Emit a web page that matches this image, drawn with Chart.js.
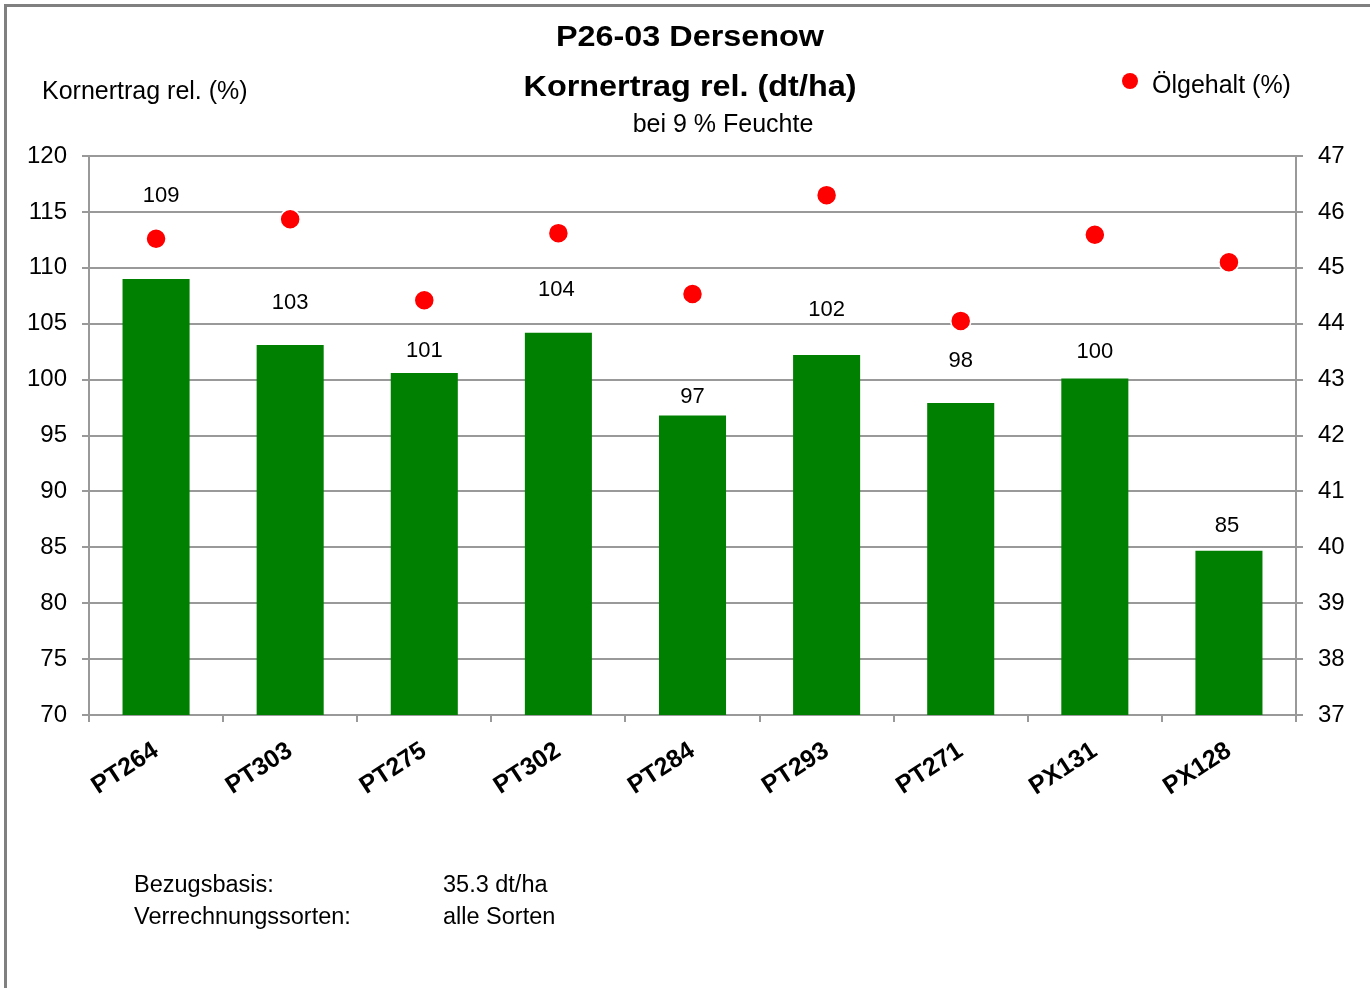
<!DOCTYPE html>
<html>
<head>
<meta charset="utf-8">
<script src="https://cdn.jsdelivr.net/npm/chart.js@4"></script>
<style>
    body { margin: 0; background: #fff; }
    #cadre { width: 1370px; height: 988px; }
</style>
</head>
<body>
<div id="cadre"><canvas id="graphique-ertrag"></canvas></div>
<script>
const sorten = ["PT264", "PT303", "PT275", "PT302", "PT284", "PT293", "PT271", "PX131", "PX128"]
const kornertragRel = [109.0, 103.1, 100.6, 104.2, 96.8, 102.2, 97.9, 100.1, 84.7]
const oelgehalt = [45.52, 45.87, 44.42, 45.62, 44.53, 46.30, 44.05, 45.59, 45.10]
const ticksLinks = [70, 75, 80, 85, 90, 95, 100, 105, 110, 115, 120]
const ticksRechts = [37, 38, 39, 40, 41, 42, 43, 44, 45, 46, 47]
const titel = ["P26-03 Dersenow", "Kornertrag rel. (dt/ha)"]
const untertitel = "bei 9 % Feuchte"
const achsenTitel = "Kornertrag rel. (%)"
const fussnote = [["Bezugsbasis:", "35.3 dt/ha"], ["Verrechnungssorten:", "alle Sorten"]]

const police = "'Liberation Sans', Arial, sans-serif"
const gris = "#999999"

// texte en gras un peu élargi, comme dans l'original
function texteLarge(ctx, texte, x, y, largeur) {
    const w = ctx.measureText(texte).width
    ctx.save()
    ctx.translate(x, y)
    ctx.scale(largeur / w, 1)
    ctx.textAlign = "center"
    ctx.fillText(texte, 0, 0)
    ctx.restore()
}

const cadreEtTextes = {
    id: "cadreEtTextes",
    beforeDraw(chart) {
        const ctx = chart.ctx
        ctx.save()
        ctx.fillStyle = "#fff"
        ctx.fillRect(0, 0, chart.width, chart.height)
        ctx.strokeStyle = "#808080"
        ctx.lineWidth = 3
        ctx.beginPath()
        ctx.moveTo(5.5, chart.height)
        ctx.lineTo(5.5, 5.5)
        ctx.lineTo(chart.width, 5.5)
        ctx.stroke()
        ctx.restore()
    },
    afterDraw(chart) {
        const ctx = chart.ctx
        ctx.save()
        ctx.fillStyle = "#000"
        ctx.textBaseline = "alphabetic"

        ctx.font = "bold 30px " + police
        texteLarge(ctx, titel[0], 690, 46, 268)
        ctx.font = "bold 30px " + police
        texteLarge(ctx, titel[1], 690, 96, 333)

        ctx.font = "25px " + police
        ctx.textAlign = "center"
        ctx.fillText(untertitel, 723, 132)
        ctx.textAlign = "left"
        ctx.fillText(achsenTitel, 42, 99)

        // légende
        const ds = chart.data.datasets[1]
        ctx.fillStyle = ds.pointBackgroundColor
        ctx.beginPath()
        ctx.arc(1130, 81, 8, 0, Math.PI * 2)
        ctx.fill()
        ctx.fillStyle = "#000"
        ctx.fillText(ds.label, 1152, 93)

        ctx.font = "23.5px " + police
        for (let i = 0; i < fussnote.length; i++) {
            ctx.fillText(fussnote[i][0], 134, 892 + i * 32)
            ctx.fillText(fussnote[i][1], 443, 892 + i * 32)
        }
        ctx.restore()
    }
}

const etiquettesBarres = {
    id: "etiquettesBarres",
    afterDatasetsDraw(chart, args, opts) {
        const ctx = chart.ctx
        const meta = chart.getDatasetMeta(0)
        const valeurs = chart.data.datasets[0].data
        ctx.save()
        ctx.font = "22px " + police
        ctx.fillStyle = "#000"
        ctx.textAlign = "center"
        ctx.textBaseline = "middle"
        for (let i = 0; i < meta.data.length; i++) {
            const barre = meta.data[i]
            ctx.fillText(Math.round(valeurs[i]), barre.x + opts.decalage[i], barre.y - opts.abstand[i] + 1)
        }
        ctx.restore()
    }
}

const data = {
    labels: sorten,
    datasets: [{
        type: "bar",
        label: "Kornertrag rel. (%)",
        data: kornertragRel,
        backgroundColor: "#008000",
        barPercentage: 0.5,
        categoryPercentage: 1,
        yAxisID: "y",
        order: 2
    }, {
        type: "line",
        label: "Ölgehalt (%)",
        data: oelgehalt,
        showLine: false,
        pointRadius: 10,
        pointBackgroundColor: "#ff0000",
        pointBorderColor: "#ffffff",
        pointBorderWidth: 1.5,
        yAxisID: "y2",
        order: 1
    }]
}

const config = {
    type: "bar",
    data: data,
    plugins: [cadreEtTextes, etiquettesBarres],
    options: {
        responsive: true,
        maintainAspectRatio: false,
        animation: false,
        layout: { padding: { top: 156 } },
        plugins: {
            legend: { display: false },
            title: { display: false },
            tooltip: { enabled: false },
            etiquettesBarres: {
                abstand: [84, 43, 23, 44, 19, 46, 43, 28, 26],
                decalage: [5, 0, 0, -2, 0, 0, 0, 0, -2]
            }
        },
        scales: {
            x: {
                offset: true,
                grid: { offset: true, drawOnChartArea: false, color: gris, lineWidth: 2, tickLength: 7 },
                border: { color: gris, width: 2 },
                ticks: {
                    autoSkip: false,
                    maxRotation: 33,
                    minRotation: 33,
                    padding: 14,
                    color: "#000",
                    font: { family: police, size: 25, weight: "bold" }
                },
                afterFit: (s) => { s.height = 273 }
            },
            y: {
                position: "left",
                min: ticksLinks[0],
                max: ticksLinks[ticksLinks.length - 1],
                afterBuildTicks: (s) => { s.ticks = ticksLinks.map(v => ({ value: v })) },
                grid: { color: gris, lineWidth: 2, tickLength: 7 },
                border: { color: gris, width: 2 },
                ticks: { padding: 15, color: "#000", font: { family: police, size: 24 } },
                afterFit: (s) => { s.width = 89 }
            },
            y2: {
                position: "right",
                min: ticksRechts[0],
                max: ticksRechts[ticksRechts.length - 1],
                afterBuildTicks: (s) => { s.ticks = ticksRechts.map(v => ({ value: v })) },
                grid: { drawOnChartArea: false, color: gris, lineWidth: 2, tickLength: 7 },
                border: { color: gris, width: 2 },
                ticks: { padding: 15, color: "#000", font: { family: police, size: 24 } },
                afterFit: (s) => { s.width = 74 }
            }
        }
    }
}

const graphiqueErtrag = new Chart(document.querySelector("#graphique-ertrag"), config)
</script>
</body>
</html>
